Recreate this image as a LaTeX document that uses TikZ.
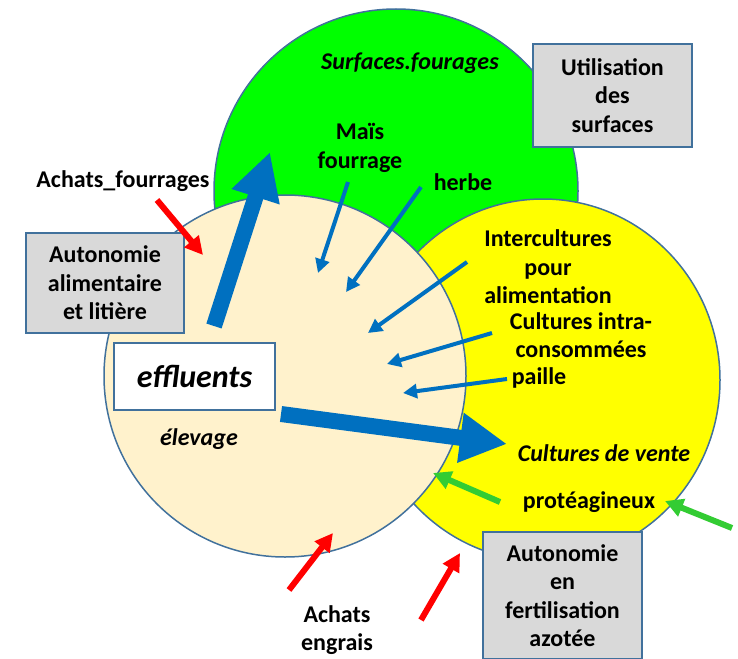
\documentclass[tikz,border=0pt]{standalone}
\usepackage{fontspec}
\setmainfont{Carlito}
\usetikzlibrary{arrows.meta, positioning, shapes}

\begin{document}
\begin{tikzpicture}[x=1pt, y=-1pt, font=\bfseries\fontsize{24}{28.5}\selectfont]
% 定义颜色和样式
\definecolor{bord}{HTML}{41719C}
\definecolor{vertfonce}{HTML}{00FF00}
\definecolor{jaune}{HTML}{FFFF00}
\definecolor{beige}{HTML}{FFF2CC}
\definecolor{gris}{HTML}{D9D9D9}
\definecolor{bleu}{HTML}{0070C0}
\definecolor{rougevif}{HTML}{FF0000}
\definecolor{vertvif}{HTML}{33CC33}
\tikzstyle{cercle} = [draw=bord, line width=1.5pt]
\tikzstyle{boite} = [rectangle, draw=bord, line width=1.5pt, fill=gris, align=center, inner sep=0pt]
\tikzstyle{titre} = [font=\bfseries\itshape\fontsize{24}{28.5}\selectfont]
\tikzstyle{grosse} = [draw=bleu, line width=16pt, -{Triangle[width=47pt, length=47pt]}]
\tikzstyle{fine} = [draw=bleu, line width=4pt, -{Triangle[width=14pt, length=14pt]}]
\tikzstyle{achat} = [draw=rougevif, line width=6pt, -{Triangle[width=18pt, length=18pt]}]
\tikzstyle{apport} = [draw=vertvif, line width=6pt, -{Triangle[width=18pt, length=18pt]}]

\clip (0,0) rectangle (738,658);

% 绘制圆
\draw [cercle, fill=vertfonce] (396,191) circle [radius=182pt];
\draw [cercle, fill=jaune] (543,380) ellipse [x radius=177pt, y radius=181pt];
\draw [cercle, fill=beige] (285,376) circle [radius=181pt];

% 方框
\node [boite, minimum width=159pt, minimum height=103pt] (utilisation) at (612.5,95.5) {Utilisation\\des\\surfaces};
\node [boite, minimum width=158pt, minimum height=100pt] (alimentaire) at (105,283) {Autonomie\\alimentaire\\et litière};
\node [boite, fill=white, minimum width=161pt, minimum height=67pt, font=\bfseries\itshape\fontsize{32}{36}\selectfont] (effluents) at (194.5,376.5) {effluents};
\node [boite, minimum width=159pt, minimum height=127pt] (fertilisation) at (562.5,595.5) {Autonomie\\en\\fertilisation\\azotée};

% 文字
\node [titre] (surfaces) at (410,63) {Surfaces.fourages};
\node [align=center] (mais) at (360,148) {Maïs\\fourrage};
\node (herbe) at (463,182) {herbe};
\node (achatsf) at (123,181) {Achats\_fourrages};
\node [align=center] (inter) at (548,267) {Intercultures\\pour\\alimentation};
\node [align=center] (intra) at (581,335) {Cultures intra-\\consommées};
\node (paille) at (539,378) {paille};
\node [titre] (elevage) at (199,439) {élevage};
\node [titre] (vente) at (604,453) {Cultures de vente};
\node (proteagineux) at (589,502) {protéagineux};
\node [align=center] (engrais) at (337,630) {Achats\\engrais};

% 箭头端点
\coordinate (e-haut) at (214,326);
\coordinate (s-haut) at (270,152);
\coordinate (e-droite) at (281,414);
\coordinate (s-droite) at (507,444);
\coordinate (mais-d) at (348,182);
\coordinate (mais-f) at (318,273);
\coordinate (herbe-d) at (421,187);
\coordinate (herbe-f) at (346,292);
\coordinate (inter-d) at (467,262);
\coordinate (inter-f) at (368,333);
\coordinate (intra-d) at (492,333);
\coordinate (intra-f) at (387,364);
\coordinate (paille-d) at (507,379);
\coordinate (paille-f) at (403,393);
\coordinate (af-d) at (157,200);
\coordinate (af-f) at (203,255);
\coordinate (eng1-d) at (289,590);
\coordinate (eng1-f) at (333,533);
\coordinate (eng2-d) at (421,620);
\coordinate (eng2-f) at (460,553);
\coordinate (prot1-d) at (500,502);
\coordinate (prot1-f) at (433,473);
\coordinate (prot2-d) at (732,528);
\coordinate (prot2-f) at (665,501);

% 连接
\path [grosse] (e-haut) -- (s-haut);
\path [grosse] (e-droite) -- (s-droite);
\path [fine] (mais-d) -- (mais-f);
\path [fine] (herbe-d) -- (herbe-f);
\path [fine] (inter-d) -- (inter-f);
\path [fine] (intra-d) -- (intra-f);
\path [fine] (paille-d) -- (paille-f);
\path [achat] (af-d) -- (af-f);
\path [achat] (eng1-d) -- (eng1-f);
\path [achat] (eng2-d) -- (eng2-f);
\path [apport] (prot1-d) -- (prot1-f);
\path [apport] (prot2-d) -- (prot2-f);
\end{tikzpicture}
\end{document}
